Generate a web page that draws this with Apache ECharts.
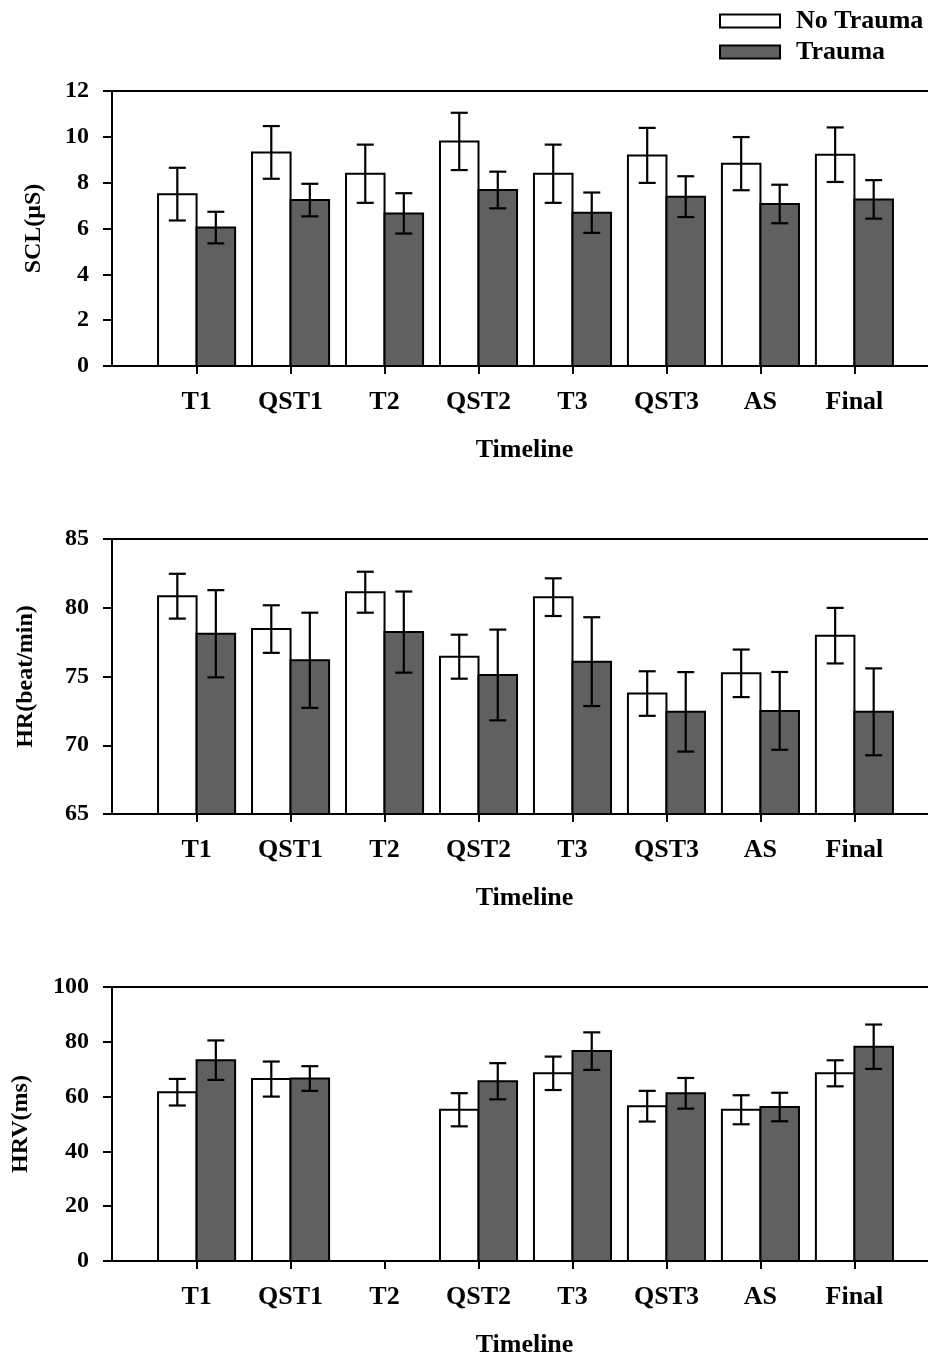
<!DOCTYPE html>
<html>
<head>
<meta charset="utf-8">
<script src="https://cdn.jsdelivr.net/npm/echarts@6/dist/echarts.min.js"></script>
<style>
html,body{margin:0;padding:0;background:#fff;}
#chart{width:928px;height:1359px;}
</style>
</head>
<body>
<div id="chart"></div>
<script>
// ---- data ----
const categories = ['T1', 'QST1', 'T2', 'QST2', 'T3', 'QST3', 'AS', 'Final'];
const seriesNames = ['No Trauma', 'Trauma'];

const sclNoTrauma    = [7.50, 9.32, 8.39, 9.80, 8.39, 9.19, 8.83, 9.22];
const sclNoTraumaErr = [1.15, 1.15, 1.27, 1.25, 1.27, 1.20, 1.16, 1.19];
const sclTrauma      = [6.04, 7.24, 6.66, 7.68, 6.69, 7.39, 7.07, 7.27];
const sclTraumaErr   = [0.69, 0.71, 0.88, 0.80, 0.88, 0.89, 0.84, 0.84];

const hrNoTrauma    = [80.84, 78.45, 81.13, 76.44, 80.77, 73.76, 75.23, 77.97];
const hrNoTraumaErr = [1.63, 1.73, 1.49, 1.60, 1.37, 1.62, 1.73, 2.02];
const hrTrauma      = [78.11, 76.18, 78.23, 75.11, 76.08, 72.43, 72.50, 72.43];
const hrTraumaErr   = [3.17, 3.46, 2.95, 3.30, 3.23, 2.89, 2.83, 3.16];

const hrvNoTrauma    = [61.6, 66.4, null, 55.2, 68.5, 56.5, 55.2, 68.5];
const hrvNoTraumaErr = [4.85, 6.4, null, 6.05, 6.1, 5.6, 5.3, 4.75];
const hrvTrauma      = [73.3, 66.6, null, 65.6, 76.6, 61.2, 56.2, 78.2];
const hrvTraumaErr   = [7.2, 4.5, null, 6.6, 6.85, 5.6, 5.2, 8.1];

const yNames = ['SCL(μS)', 'HR(beat/min)', 'HRV(ms)'];
const yMins = [0, 65, 0];
const yMaxs = [12, 85, 100];
const yIntervals = [2, 5, 20];
const xTitle = 'Timeline';

// ---- layout / style ----
const FONT = "'Liberation Serif', 'Times New Roman', serif";
const gridTops = [91, 539, 987];
const gridHeight = 275;
const nameGaps = [66, 74, 79];
const X_MIN = 0.1, X_MAX = 8.783;
const BAR_W = 0.41;        // bar width in category units
const CAP_HALF = 8.5;      // px
const fills = ['#ffffff', '#606060'];

const panels = [
  [sclNoTrauma, sclNoTraumaErr, sclTrauma, sclTraumaErr],
  [hrNoTrauma, hrNoTraumaErr, hrTrauma, hrTraumaErr],
  [hrvNoTrauma, hrvNoTraumaErr, hrvTrauma, hrvTraumaErr]
];
const catPos = categories.map((c, i) => i + 1);

function makeRender(side, base) {
  return function (params, api) {
    const x = api.value(0), v = api.value(1), e = api.value(2);
    if (v == null || isNaN(v)) return null;
    const top = api.coord([x, v]);
    const bot = api.coord([x, base]);
    const w = api.size([BAR_W, 0])[0];
    const x0 = side === 0 ? top[0] - w : top[0];
    const cx = x0 + w / 2;
    const eTop = api.coord([x, v + e])[1];
    const eBot = api.coord([x, v - e])[1];
    const lineStyle = { stroke: '#000', lineWidth: 2.2 };
    return {
      type: 'group',
      children: [
        { type: 'rect', shape: { x: x0, y: top[1], width: w, height: bot[1] - top[1] },
          style: { fill: fills[side], stroke: '#000', lineWidth: 2 } },
        { type: 'line', shape: { x1: cx, y1: eTop, x2: cx, y2: eBot }, style: lineStyle },
        { type: 'line', shape: { x1: cx - CAP_HALF, y1: eTop, x2: cx + CAP_HALF, y2: eTop }, style: lineStyle },
        { type: 'line', shape: { x1: cx - CAP_HALF, y1: eBot, x2: cx + CAP_HALF, y2: eBot }, style: lineStyle }
      ]
    };
  };
}

const grids = [], xAxes = [], yAxes = [], series = [];
const txt = { color: '#000', fontFamily: FONT, fontWeight: 'bold' };

panels.forEach((p, g) => {
  grids.push({ left: 112, right: 0, top: gridTops[g], height: gridHeight });
  xAxes.push({
    type: 'value', gridIndex: g, min: X_MIN, max: X_MAX, position: 'bottom',
    axisLine: { show: true, onZero: false, lineStyle: { color: '#000', width: 2 } },
    axisTick: { show: true, customValues: catPos, length: 8, lineStyle: { color: '#000', width: 2 } },
    axisLabel: { customValues: catPos, formatter: v => categories[Math.round(v) - 1], margin: 23,
                 fontSize: 26, ...txt },
    splitLine: { show: false },
    name: xTitle, nameLocation: 'middle', nameGap: 71,
    nameTextStyle: { fontSize: 26, padding: [0, 0, 0, 9], ...txt }
  });
  xAxes.push({
    type: 'value', gridIndex: g, min: X_MIN, max: X_MAX, position: 'top',
    axisLine: { show: true, onZero: false, lineStyle: { color: '#000', width: 2 } },
    axisTick: { show: false }, axisLabel: { show: false }, splitLine: { show: false }
  });
  yAxes.push({
    type: 'value', gridIndex: g, min: yMins[g], max: yMaxs[g], interval: yIntervals[g],
    axisLine: { show: true, onZero: false, lineStyle: { color: '#000', width: 2 } },
    axisTick: { show: true, length: 9, lineStyle: { color: '#000', width: 2 } },
    axisLabel: { margin: 23, fontSize: 24, ...txt },
    splitLine: { show: false },
    name: yNames[g], nameLocation: 'middle', nameGap: nameGaps[g],
    nameTextStyle: { fontSize: 24, ...txt }
  });
  [0, 1].forEach(side => {
    const vals = p[side * 2], errs = p[side * 2 + 1];
    series.push({
      type: 'custom', name: seriesNames[side],
      xAxisIndex: g * 2, yAxisIndex: g,
      itemStyle: { color: fills[side], borderColor: '#000', borderWidth: 2 },
      renderItem: makeRender(side, yMins[g]),
      encode: { x: 0, y: 1 },
      data: catPos.map((x, i) => [x, vals[i], errs[i]]),
      clip: false, z: 2 + side
    });
  });
});

const chart = echarts.init(document.getElementById('chart'), null, { renderer: 'canvas' });
chart.setOption({
  backgroundColor: '#fff',
  animation: false,
  grid: grids, xAxis: xAxes, yAxis: yAxes, series: series,
  legend: {
    orient: 'vertical', left: 714, top: 3, itemWidth: 60, itemHeight: 13, itemGap: 5,
    selectedMode: false,
    textStyle: { fontSize: 26, padding: [0, 0, 0, 11], ...txt },
    data: [
      { name: 'No Trauma', icon: 'rect', itemStyle: { color: '#fff', borderColor: '#000', borderWidth: 2 } },
      { name: 'Trauma', icon: 'rect', itemStyle: { color: '#606060', borderColor: '#000', borderWidth: 2 } }
    ]
  }
});
</script>
</body>
</html>
